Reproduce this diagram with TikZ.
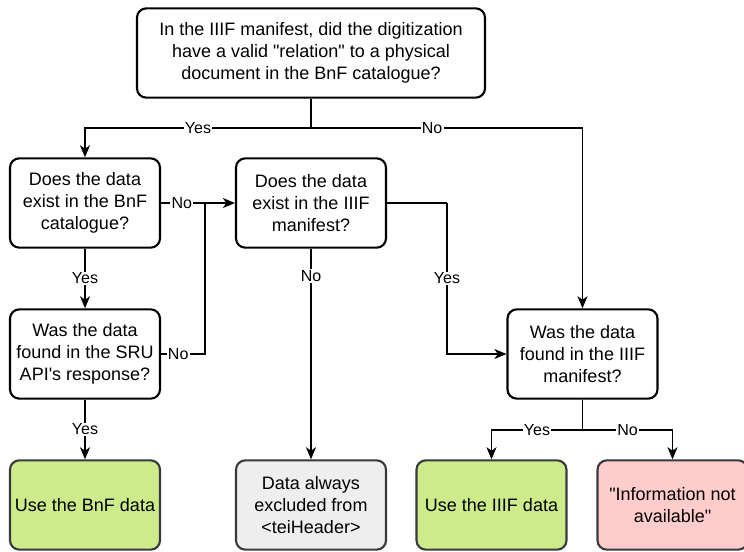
\documentclass[tikz,border=0pt]{standalone}
\usepackage{fontspec}
\setmainfont{Liberation Sans}[Ligatures=TeXOff]
\usetikzlibrary{arrows.meta}
\definecolor{okgreen}{HTML}{CDEB8B}
\definecolor{greyfill}{HTML}{EEEEEE}
\definecolor{pinkfill}{HTML}{FFCCCC}
\definecolor{darkedge}{HTML}{36393D}
\tikzset{
  box/.style={draw=black, line width=1.6pt, rounded corners=7pt, fill=white,
    minimum width=112.5pt, minimum height=67pt, align=center,
    font=\fontsize{13.5pt}{16.5pt}\selectfont, inner sep=2pt},
  endbox/.style={box, draw=darkedge},
  arr/.style={line width=0.8pt, -{Stealth[length=9pt,width=7.5pt,inset=2.5pt]}},
  ln/.style={line width=0.8pt},
  lbl/.style={fill=white, inner sep=1pt, font=\fontsize{12pt}{14pt}\selectfont}
}
\begin{document}
\begin{tikzpicture}[x=0.75pt,y=-0.75pt]
\useasboundingbox (0,0) rectangle (744,551);
\node[box, minimum width=261pt] (top) at (311,53) {In the IIIF manifest, did the digitization\\have a valid "relation" to a physical\\document in the BnF catalogue?};
\node[box] (bnf) at (85,203) {Does the data\\exist in the BnF\\catalogue?};
\node[box] (iiifx) at (311,203) {Does the data\\exist in the IIIF\\manifest?};
\node[box] (sru) at (85,354) {Was the data\\found in the SRU\\API's response?};
\node[box] (iiiff) at (582.5,354) {Was the data\\found in the IIIF\\manifest?};
\node[endbox, fill=okgreen] (usebnf) at (85,505) {Use the BnF data};
\node[endbox, fill=greyfill] (excl) at (311,505) {Data always\\excluded from\\<teiHeader>};
\node[endbox, fill=okgreen] (useiiif) at (491.5,505) {Use the IIIF data};
\node[endbox, fill=pinkfill] (na) at (672.5,505) {"Information not\\available"};
\coordinate (split) at (311,128);
\coordinate (join) at (205,354);
\coordinate (yesturn) at (447,203);
\coordinate (split2) at (582.5,430);
\draw[ln] (top.south) -- (split);
\draw[arr] (split) -| node[lbl, pos=0.25] {Yes} (bnf.north);
\draw[arr] (split) -| node[lbl, pos=0.223] {No} (iiiff.north);
\draw[arr] (bnf.east) -- node[lbl, pos=0.28] {No} (iiifx.west);
\draw[ln] (sru.east) -- node[lbl, pos=0.39] {No} (join) -- (join |- iiifx.west);
\draw[arr] (bnf.south) -- node[lbl] {Yes} (sru.north);
\draw[arr] (iiifx.south) -- node[lbl, pos=0.13] {No} (excl.north);
\draw[ln] (iiifx.east) -- (yesturn);
\draw[arr] (yesturn) |- node[lbl, pos=0.25] {Yes} (iiiff.west);
\draw[arr] (sru.south) -- node[lbl] {Yes} (usebnf.north);
\draw[ln] (iiiff.south) -- (split2);
\draw[arr] (split2) -| node[lbl, pos=0.25] {Yes} (useiiif.north);
\draw[arr] (split2) -| node[lbl, pos=0.25] {No} (na.north);
\end{tikzpicture}
\end{document}
